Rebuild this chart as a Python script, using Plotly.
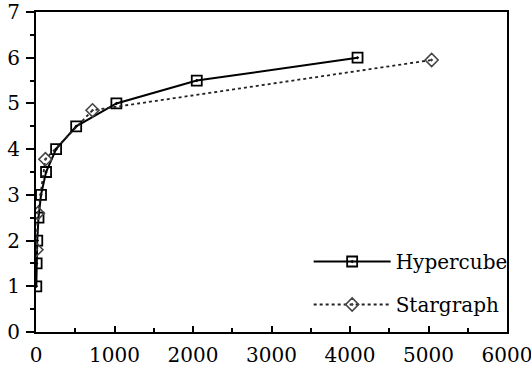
import plotly.graph_objects as go

# Data
hyper_x = [4, 8, 16, 32, 64, 128, 256, 512, 1024, 2048, 4096]
hyper_y = [1.0, 1.5, 2.0, 2.5, 3.0, 3.5, 4.0, 4.5, 5.0, 5.5, 6.0]
star_x = [6, 24, 120, 720, 5040]
star_y = [1.8, 2.6, 3.78, 4.85, 5.95]
x_ticks = [0, 1000, 2000, 3000, 4000, 5000, 6000]
y_ticks = [0, 1, 2, 3, 4, 5, 6, 7]

FONT = "DejaVu Serif"
FS = 20

fig = go.Figure()
fig.add_trace(go.Scatter(
    x=hyper_x, y=hyper_y, name="Hypercube", mode="lines+markers",
    legendgroup="a",
    line=dict(color="black", width=2),
    marker=dict(symbol="square-open-dot", size=10, color="black",
                line=dict(width=1.8, color="black")),
))
fig.add_trace(go.Scatter(
    x=star_x, y=star_y, name="Stargraph", mode="lines+markers",
    legendgroup="b",
    line=dict(color="#222222", width=1.8, dash="dot"),
    marker=dict(symbol="diamond-open-dot", size=10, color="#444444",
                line=dict(width=1.6, color="#444444")),
))

fig.update_layout(
    width=531, height=368,
    margin=dict(l=36, r=24, t=12, b=36, autoexpand=False),
    paper_bgcolor="white", plot_bgcolor="white",
    font=dict(family=FONT, size=FS, color="black"),
    showlegend=True,
    legend=dict(
        x=1.012, y=0.025, xanchor="right", yanchor="bottom",
        bgcolor="rgba(0,0,0,0)", borderwidth=0,
        font=dict(family=FONT, size=FS, color="black"),
        itemwidth=77, tracegroupgap=14, traceorder="grouped",
    ),
)
fig.update_xaxes(
    range=[0, 6000], tickvals=x_ticks, ticktext=[str(v) for v in x_ticks],
    showgrid=False, zeroline=False, automargin=False,
    showline=True, linecolor="black", linewidth=2, mirror=True,
    ticks="inside", ticklen=6, tickwidth=2, tickcolor="black",
    minor=dict(dtick=500, ticks="inside", ticklen=4, tickwidth=1.5, tickcolor="black"),
    tickfont=dict(family=FONT, size=FS, color="black"),
    ticklabeloverflow="allow", ticklabelstandoff=4,
)
fig.update_yaxes(
    range=[0, 7], tickvals=y_ticks, ticktext=[str(v) for v in y_ticks],
    showgrid=False, zeroline=False, automargin=False,
    showline=True, linecolor="black", linewidth=2, mirror=True,
    ticks="outside", ticklen=8, tickwidth=2, tickcolor="black",
    minor=dict(dtick=0.5, ticks="outside", ticklen=4, tickwidth=1.5, tickcolor="black"),
    tickfont=dict(family=FONT, size=FS, color="black"),
    ticklabeloverflow="allow", ticklabelstandoff=2,
)

fig.write_html("out.html")
